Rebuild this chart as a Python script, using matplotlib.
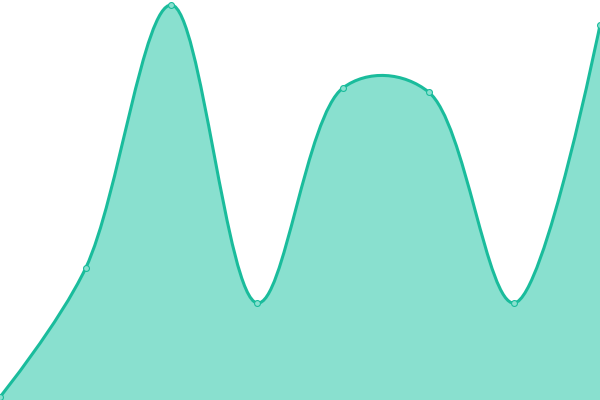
import numpy as np
import matplotlib
matplotlib.use("Agg")
import matplotlib.pyplot as plt
from matplotlib.path import Path
from matplotlib.patches import PathPatch

# data (values on a 0..400 scale)
categories = ["A", "B", "C", "D", "E", "F", "G", "H"]
values = [3, 132, 395, 97, 312, 308, 97, 375]

LINE = "#1abc9c"
FILL = "#89e0cf"

W, H = 600, 400
fig = plt.figure(figsize=(6, 4), dpi=100)
ax = fig.add_axes([0, 0, 1, 1])
n = len(values)
xs = np.arange(n, dtype=float)
ax.set_xlim(0, n - 1)
ax.set_ylim(0, H)
ax.axis("off")

# Catmull-Rom spline, computed in pixel space
sx = W / (n - 1)
P = np.column_stack([xs * sx, np.array(values, float)])
alpha = 0.4

def bez_segments(P):
    segs = []
    m = len(P)
    for i in range(m - 1):
        p0 = P[i - 1] if i > 0 else P[i]
        p1, p2 = P[i], P[i + 1]
        p3 = P[i + 2] if i + 2 < m else P[i + 1]
        l01 = np.linalg.norm(p1 - p0)
        l12 = np.linalg.norm(p2 - p1)
        l23 = np.linalg.norm(p3 - p2)
        l01a, l12a, l23a = l01 ** alpha, l12 ** alpha, l23 ** alpha
        l01_2a, l12_2a, l23_2a = l01 ** (2 * alpha), l12 ** (2 * alpha), l23 ** (2 * alpha)
        c1 = p1.copy()
        c2 = p2.copy()
        if l01a > 1e-12:
            a = 2 * l01_2a + 3 * l01a * l12a + l12_2a
            nn = 3 * l01a * (l01a + l12a)
            c1 = (p1 * a - p0 * l12_2a + p2 * l01_2a) / nn
        if l23a > 1e-12:
            b = 2 * l23_2a + 3 * l23a * l12a + l12_2a
            mm = 3 * l23a * (l23a + l12a)
            c2 = (p2 * b + p1 * l23_2a - p3 * l12_2a) / mm
        segs.append((c1, c2, p2))
    return segs

segs = bez_segments(P)
verts = [P[0]]
codes = [Path.MOVETO]
for c1, c2, p2 in segs:
    verts += [c1, c2, p2]
    codes += [Path.CURVE4] * 3
verts = np.array(verts)
verts[:, 0] /= sx  # back to data x

line_path = Path(verts, codes)
fill_verts = np.vstack([verts, [[xs[-1], 0], [xs[0], 0], verts[0]]])
fill_codes = codes + [Path.LINETO, Path.LINETO, Path.CLOSEPOLY]
fill_path = Path(fill_verts, fill_codes)

ax.add_patch(PathPatch(fill_path, facecolor=FILL, edgecolor="none", zorder=1))
ax.add_patch(PathPatch(line_path, facecolor="none", edgecolor=LINE, lw=2.2, zorder=2))
ax.scatter(xs, values, s=18, facecolor=FILL, edgecolor=LINE, linewidth=0.8, zorder=3, clip_on=False)

fig.savefig("out.png", dpi=100)
